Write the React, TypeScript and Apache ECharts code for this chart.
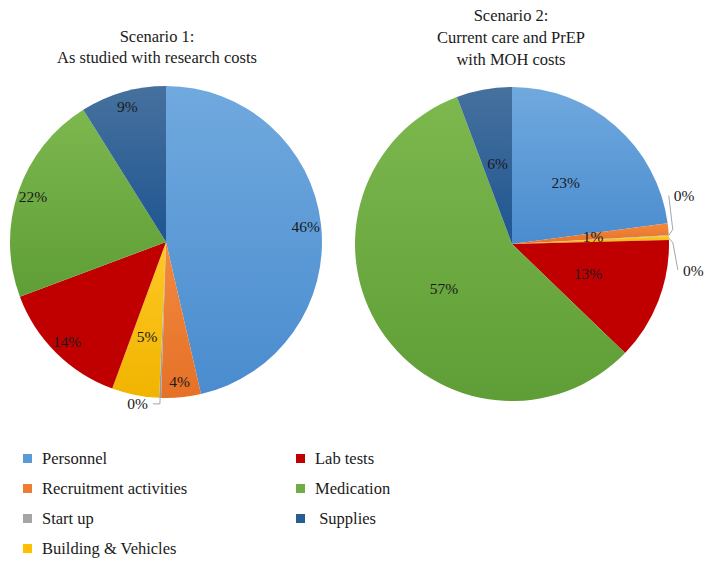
import React, { useEffect, useRef } from 'react';
import * as echarts from 'echarts';

const categories = [
  'Personnel',
  'Recruitment activities',
  'Start up',
  'Building & Vehicles',
  'Lab tests',
  'Medication',
  'Supplies',
];
const scenario1 = [46.4, 4.1, 0.2, 4.9, 13.7, 21.8, 8.9];
const scenario2 = [22.9, 1.2, 0.1, 0.4, 12.6, 57.1, 5.7];
const titleTexts = [
  'Scenario 1:\nAs studied with research costs',
  'Scenario 2:\nCurrent care and PrEP\nwith MOH costs',
];
const legendCol1 = ['Personnel', 'Recruitment activities', 'Start up', 'Building & Vehicles'];
const legendCol2 = ['Lab tests', 'Medication', 'Supplies'];

const flatColors = ['#5b9bd5', '#ed7d31', '#a5a5a5', '#ffc000', '#c00000', '#70ad47', '#255e91'];
const gradStops = [
  ['#70a9de', '#4a8ccf'],
  ['#f4883f', '#e57127'],
  ['#b3b3b3', '#999999'],
  ['#ffc825', '#f0b400'],
  ['#c00000', '#c00000'],
  ['#7cb84e', '#5f9d36'],
  ['#46719e', '#1f5591'],
];

const FONT = "'Liberation Serif', 'DejaVu Serif', serif";
const TEXT_COLOR = '#1a1a1a';

const grad = (i: number) => ({
  type: 'linear',
  x: 0,
  y: 0,
  x2: 0,
  y2: 1,
  colorStops: [
    { offset: 0, color: gradStops[i][0] },
    { offset: 1, color: gradStops[i][1] },
  ],
});

const labelStyle = {
  color: TEXT_COLOR,
  fontFamily: FONT,
  fontSize: 15.5,
  formatter: (p: any) => Math.round(p.value) + '%',
};

function buildData(values: number[], visible: boolean, inside: number[], outside: number[]) {
  return values.map((v, i) => ({
    name: categories[i],
    value: v,
    itemStyle: { color: visible ? grad(i) : 'rgba(0,0,0,0)' },
    label: inside.includes(i)
      ? { show: true, position: 'inside' }
      : outside.includes(i)
      ? { show: true, position: 'outside' }
      : { show: false },
    labelLine: { show: outside.includes(i) },
  }));
}

const basePie = {
  type: 'pie',
  startAngle: 90,
  clockwise: true,
  silent: true,
  avoidLabelOverlap: false,
  emphasis: { disabled: true },
  label: labelStyle,
  labelLine: { lineStyle: { color: '#a6a6a6', width: 1 }, length: 6, length2: 7 },
};

// nudges for the two stacked 0% labels of scenario 2
const nudges: Record<number, [number, number]> = { 2: [-5, -40], 3: [4, 32] };

export default function App() {
  const ref = useRef<HTMLDivElement>(null);
  useEffect(() => {
    document.body.style.margin = '0';
    if (!ref.current) return;
    const chart = echarts.init(ref.current, null, { renderer: 'svg' });
    const legendData = (names: string[]) =>
      names.map((n) => ({ name: n, itemStyle: { color: flatColors[categories.indexOf(n)] } }));
    const legendCommon = {
      orient: 'vertical',
      selectedMode: false,
      icon: 'rect',
      itemWidth: 9,
      itemHeight: 9,
      itemGap: 13,
      padding: 0,
      textStyle: { fontFamily: FONT, fontSize: 16.5, color: TEXT_COLOR, padding: [0, 0, 0, 5] },
    };
    chart.setOption({
      animation: false,
      backgroundColor: '#ffffff',
      title: [
        {
          text: titleTexts[0],
          left: 157,
          top: 26,
          textAlign: 'center',
          padding: 0,
          textStyle: { fontFamily: FONT, fontSize: 16.5, fontWeight: 'normal', color: TEXT_COLOR, lineHeight: 21 },
        },
        {
          text: titleTexts[1],
          left: 511,
          top: 4,
          textAlign: 'center',
          padding: 0,
          textStyle: { fontFamily: FONT, fontSize: 16.5, fontWeight: 'normal', color: TEXT_COLOR, lineHeight: 22 },
        },
      ],
      legend: [
        { ...legendCommon, left: 23, top: 450, data: legendData(legendCol1) },
        {
          ...legendCommon,
          left: 296,
          top: 450,
          data: legendData(legendCol2),
          formatter: (n: string) => (n === 'Supplies' ? ' ' + n : n),
        },
      ],
      series: [
        {
          ...basePie,
          name: 'Scenario 1',
          center: [166, 242],
          radius: [0, 156],
          data: buildData(scenario1, true, [], [2]),
        },
        {
          ...basePie,
          name: 'Scenario 1 labels',
          center: [166, 242],
          radius: [119, 156],
          data: buildData(scenario1, false, [0, 1, 4, 5, 6], []),
        },
        {
          ...basePie,
          name: 'Scenario 1 labels mid',
          center: [166, 242],
          radius: [31, 156],
          data: buildData(scenario1, false, [3], []),
        },
        {
          ...basePie,
          name: 'Scenario 2',
          center: [512, 244],
          radius: [0, 157],
          labelLine: { lineStyle: { color: '#a6a6a6', width: 1 }, length: 2, length2: 3 },
          data: buildData(scenario2, true, [0, 1, 4, 5, 6], [2, 3]),
          labelLayout: (p: any) => {
            const n = nudges[p.dataIndex];
            if (!n) return {};
            const pts = p.labelLinePoints;
            const out: any = { dx: n[0], dy: n[1] };
            if (pts && pts.length >= 3) {
              out.labelLinePoints = [
                [pts[0][0], pts[0][1]],
                [pts[1][0] + 2, pts[1][1] + n[1] * 0.15],
                [pts[2][0] + n[0], pts[2][1] + n[1]],
              ];
            }
            return out;
          },
        },
      ],
    });
    return () => chart.dispose();
  }, []);
  return <div ref={ref} style={{ width: 712, height: 566 }} />;
}
